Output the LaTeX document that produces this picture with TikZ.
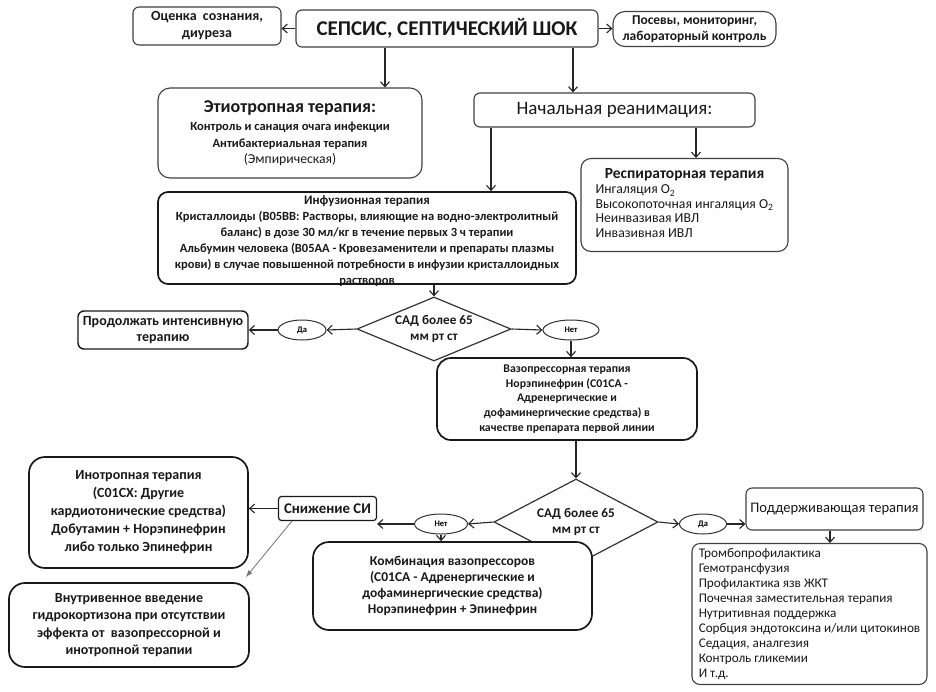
\documentclass[tikz,border=0pt]{standalone}
\usepackage{fontspec}
\setmainfont{Carlito}
\usetikzlibrary{shapes.geometric,arrows.meta,calc}
\newcommand\myfs[2]{\fontsize{#1}{#2}\selectfont}
\begin{document}
\begin{tikzpicture}[x=1pt,y=-1pt,
  thinbox/.style={draw=black!75, line width=1.1pt, rounded corners=6pt, fill=white, align=center, inner sep=2pt, text=black!90},
  thickbox/.style={draw=black!90, line width=1.7pt, rounded corners=12pt, fill=white, align=center, inner sep=2pt, text=black!90},
  oval/.style={ellipse, draw=black!80, line width=1pt, inner sep=0pt, minimum width=52pt, minimum height=20pt, font=\bfseries\myfs{8.5}{9}},
  dia/.style={diamond, draw=black!80, line width=1.2pt, inner sep=0pt, font=\bfseries\myfs{13.2}{16.5}, align=center, text=black!90},
  arr/.style={draw=black!85, line width=1.1pt, -{Straight Barb[length=5pt,width=9pt]}},
  thinarr/.style={draw=black!55, line width=0.8pt, -{Latex[length=7pt,width=5pt]}}]
\useasboundingbox[fill=white] (0,0) rectangle (936,691);

% top row
\node[thinbox, minimum width=148pt, minimum height=38pt, font=\bfseries\myfs{14}{17}] (ocenka) at (207,26) {Оценка\ \ сознания,\\диуреза};
\node[thinbox, minimum width=302pt, minimum height=37pt, font=\bfseries\myfs{21}{24}] (main) at (447,28.5) {СЕПСИС, СЕПТИЧЕСКИЙ ШОК};
\node[thinbox, rounded corners=12pt, minimum width=163pt, minimum height=35pt, font=\bfseries\myfs{13.5}{16}] (posevy) at (694.5,29) {Посевы, мониторинг,\\лабораторный контроль};

% second row
\node[thinbox, rounded corners=12pt, minimum width=264pt, minimum height=90pt, font=\bfseries\myfs{12.5}{16.5}] (etio) at (290,133) {{\myfs{18}{21}Этиотропная терапия:}\\[2pt]Контроль и санация очага инфекции\\Антибактериальная терапия\\{\mdseries\myfs{13.7}{17}(Эмпирическая)}};
\node[thinbox, minimum width=281pt, minimum height=34pt, font=\myfs{19}{22}] (nach) at (614.5,110) {Начальная реанимация:};
\node[thinbox, rounded corners=10pt, minimum width=207pt, minimum height=93pt, font=\myfs{13.7}{14.5}] (resp) at (684.5,205) {\begin{tabular}{@{}l@{}}\multicolumn{1}{@{}c@{}}{\bfseries\myfs{15.5}{16}Респираторная терапия}\\[1pt]
Ингаляция O\textsubscript{2}\\
Высокопоточная ингаляция O\textsubscript{2}\\
Неинвазивая ИВЛ\\
Инвазивная ИВЛ\end{tabular}};

% infusion
\node[thickbox, rounded corners=10pt, minimum width=418pt, inner sep=3pt, font=\bfseries\myfs{12.5}{16}] (infuz) at (367,238) {\parbox[c][86pt][t]{412pt}{\centering\vspace*{1pt}{\myfs{13}{16}Инфузионная терапия}\\
Кристаллоиды (B05BB: Растворы, влияющие на водно-электролитный\\
баланс) в дозе 30 мл/кг в течение первых 3 ч терапии\\
Альбумин человека (B05AA - Кровезаменители и препараты плазмы\\
крови) в случае повышенной потребности в инфузии кристаллоидных\\
растворов}};

% first decision
\node[dia, aspect=2.4, minimum width=154pt, minimum height=64pt] (d1) at (434,329) {САД более 65\\мм рт ст};
\node[oval, minimum width=48pt] (da1) at (302,330) {Да};
\node[oval, minimum width=56pt] (net1) at (571,330) {Нет};
\node[thickbox, rounded corners=6pt, line width=1.4pt, minimum width=170pt, minimum height=38pt, font=\bfseries\myfs{14}{16.5}] (prod) at (163,330) {Продолжать интенсивную\\терапию};

% vasopressor
\node[thickbox, rounded corners=14pt, minimum width=260pt, minimum height=82pt, font=\bfseries\myfs{11.8}{14.8}] (vaso) at (567,399) {Вазопрессорная терапия\\Норэпинефрин (C01CA -\\Адренергические и\\дофаминергические средства) в\\качестве препарата первой линии};

% second decision
\node[dia, aspect=1.9, minimum width=164pt, minimum height=86pt] (d2) at (576,522) {САД более 65\\мм рт ст};
\node[oval, minimum width=53pt] (net2) at (441,524) {Нет};
\node[oval, minimum width=47pt] (da2) at (703,524) {Да};
\node[thickbox, rounded corners=3pt, line width=1.2pt, minimum width=98pt, minimum height=24pt, font=\bfseries\myfs{14.8}{16}] (snizh) at (327.5,508.5) {Снижение СИ};
\node[thickbox, rounded corners=16pt, minimum width=219pt, minimum height=111pt, font=\bfseries\myfs{14}{18}] (ino) at (138.5,512.5) {Инотропная терапия\\(C01CX: Другие\\кардиотонические средства)\\Добутамин + Норэпинефрин\\либо только Эпинефрин};
\node[thickbox, rounded corners=16pt, minimum width=240pt, minimum height=84pt, font=\bfseries\myfs{14}{17.5}] (vnutr) at (129,625) {Внутривенное введение\\гидрокортизона при отсутствии\\эффекта от\ \ вазопрессорной и\\инотропной терапии};
\node[thickbox, rounded corners=16pt, minimum width=279pt, minimum height=88pt, font=\bfseries\myfs{13.5}{16}] (komb) at (452.5,586) {Комбинация вазопрессоров\\(C01CA - Адренергические и\\дофаминергические средства)\\Норэпинефрин + Эпинефрин};
\node[thinbox, minimum width=177pt, minimum height=42pt, font=\myfs{14.6}{17}] (podd) at (834.5,509) {Поддерживающая терапия};
\node[thinbox, rounded corners=8pt, minimum width=235pt, minimum height=141pt, inner sep=4pt, align=left, font=\myfs{13.2}{15.1}] (list) at (809.5,614) {Тромбопрофилактика\\Гемотрансфузия\\Профилактика язв ЖКТ\\Почечная заместительная терапия\\Нутритивная поддержка\\Сорбция эндотоксина и/или цитокинов\\Седация, аналгезия\\Контроль гликемии\\И т.д.};

% connectors
\coordinate (c385) at (385,0);
\coordinate (c573) at (573,0);
\coordinate (c491) at (491,0);
\coordinate (c696) at (696,0);
\coordinate (c830) at (830,0);
\draw[arr] (main.west) -- (main.west -| ocenka.east);
\draw[arr] (main.east) -- (main.east -| posevy.west);
\draw[arr] (main.south -| c385) -- (etio.north -| c385);
\draw[arr] (main.south -| c573) -- (nach.north -| c573);
\draw[arr] (nach.south -| c491) -- (infuz.north -| c491);
\draw[arr] (nach.south -| c696) -- (resp.north -| c696);
\draw[arr] (infuz.south -| d1.north) -- (d1.north);
\draw[arr] (d1.west) -- (da1.east);
\draw[arr] (da1.west) -- (da1.west -| prod.east);
\draw[arr] (d1.east) -- (net1.west);
\draw[arr] (net1.south) -- (net1.south |- vaso.north);
\draw[arr] (vaso.south -| d2.north) -- (d2.north);
\draw[arr] (d2.west) -- (net2.east);
\draw[arr] (net2.west) -- (net2.west -| snizh.east);
\draw[arr] (net2.south) -- (net2.south |- komb.north);
\draw[arr] (d2.east) -- (da2.west);
\draw[arr] (da2.east) -- (da2.east -| podd.west);
\draw[arr] (podd.south -| c830) -- (list.north -| c830);
\draw[arr] (snizh.west) -- (snizh.west -| ino.east);
\draw[thinarr] ($(snizh.south west)+(14,0)$) -- ($(vnutr.north east)+(-4,-5)$);
\end{tikzpicture}
\end{document}
